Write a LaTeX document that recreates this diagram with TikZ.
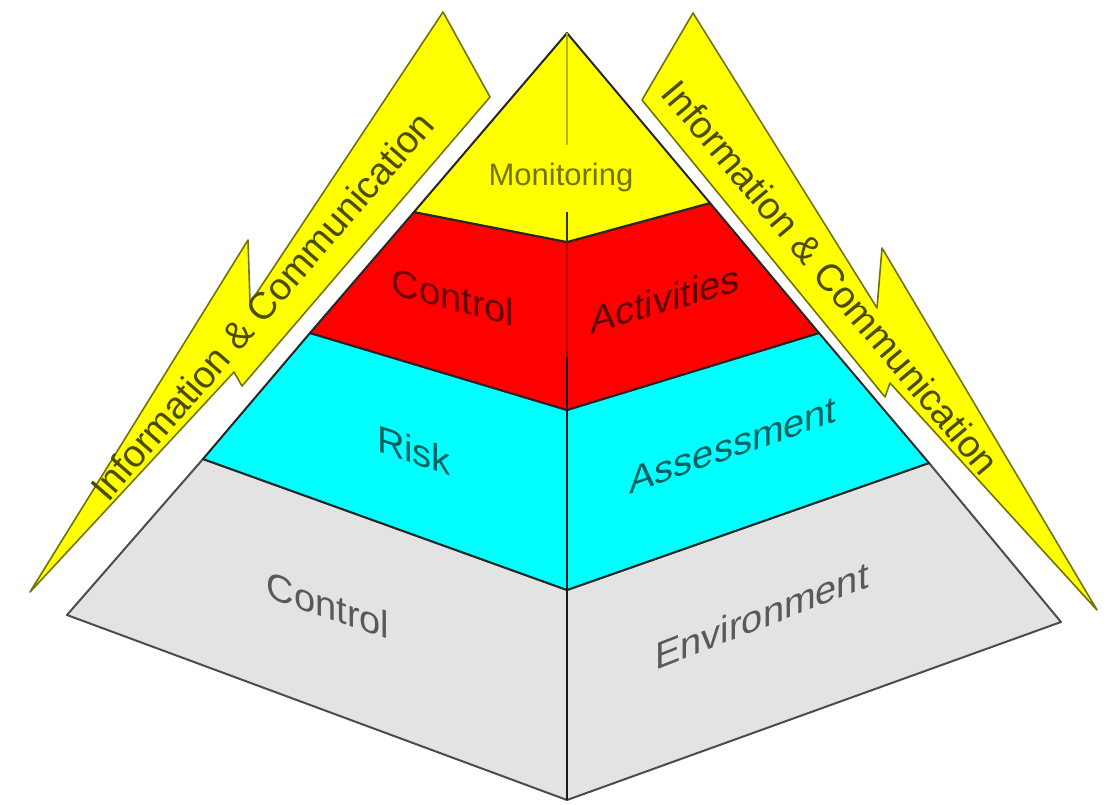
\documentclass[tikz,border=0pt]{standalone}
\usepackage{fontspec}
\setmainfont{Liberation Sans}
\definecolor{pyYellow}{RGB}{255,255,0}
\definecolor{pyRed}{RGB}{255,0,0}
\definecolor{pyCyan}{RGB}{0,255,255}
\definecolor{pyGray}{RGB}{227,227,227}

\begin{document}
\begin{tikzpicture}[x=1pt, y=-1pt,
        layer/.style={draw=black!85, line width=2pt, line join=round},
        ribbon/.style={fill=pyYellow, draw=pyYellow!45!black, line width=1.6pt, line join=round},
        lbl/.style={font=\fontsize{38}{40}\selectfont, inner sep=0pt}]
        \useasboundingbox (0,0) rectangle (1110,804);

        % Corners of the pyramid
        \coordinate (apex) at (567,33);
        \coordinate (yl) at (414,212); \coordinate (yc) at (567,242); \coordinate (yr) at (710,203);
        \coordinate (rl) at (310,333); \coordinate (rc) at (567,410); \coordinate (rr) at (819,333);
        \coordinate (cl) at (203,459); \coordinate (cc) at (567,590); \coordinate (cr) at (929,463);
        \coordinate (gl) at (67,615);  \coordinate (gc) at (567,800); \coordinate (gr) at (1061,622);

        % Draw the layers
        \filldraw[layer, fill=pyGray, draw=black!70] (cl) -- (gl) -- (gc) -- (gr) -- (cr) -- (cc) -- cycle;
        \filldraw[layer, fill=pyCyan] (rl) -- (cl) -- (cc) -- (cr) -- (rr) -- (rc) -- cycle;
        \filldraw[layer, fill=pyRed] (yl) -- (rl) -- (rc) -- (rr) -- (yr) -- (yc) -- cycle;
        \filldraw[layer, fill=pyYellow] (apex) -- (yl) -- (yc) -- (yr) -- cycle;

        % Middle edge
        \coordinate (m1) at (567,145);
        \coordinate (m2) at (567,212);
        \coordinate (m3) at (567,357);
        \draw[line width=2.5pt, pyYellow!70!black] (apex) -- (m1);
        \draw[line width=2pt, black!80] (m2) -- (yc);
        \draw[line width=2.5pt, pyRed!70!black] (yc) -- (m3);
        \draw[line width=2pt, black!90] (m3) -- (gc);

        % Draw the two bolts
        \filldraw[ribbon] (443,12) -- (490,97) -- (242,386) -- (234,372) -- (30,592)
            -- (248,240) -- (250,303) -- cycle;
        \filldraw[ribbon] (693,13) -- (877,308) -- (882,248) -- (1097,610) -- (890,383)
            -- (885,397) -- (642,100) -- cycle;

        % Labels
        \node[lbl, font=\fontsize{31}{33}\selectfont, text=pyYellow!45!black, anchor=base] (mon) at (561,185) {Monitoring};
        \node[lbl, text=pyRed!40!black, yslant=-0.26] (ctlA) at (453,297) {Control};
        \node[lbl, text=pyRed!35!black, yslant=0.29] (act) at (665,299) {Activities};
        \node[lbl, text=pyCyan!38!black, yslant=-0.33] (risk) at (414,450) {Risk};
        \node[lbl, text=pyCyan!38!black, yslant=0.35] (asm) at (733,445) {Assessment};
        \node[lbl, text=black!65, yslant=-0.34] (ctlB) at (328,605) {Control};
        \node[lbl, text=black!65, yslant=0.39] (env) at (762,615) {Environment};
        \node[lbl, text=pyYellow!30!black, rotate=49] (infoL) at (262,306) {Information \& Communication};
        \node[lbl, text=pyYellow!30!black, rotate=-50] (infoR) at (831,277) {Information \& Communication};
\end{tikzpicture}
\end{document}
